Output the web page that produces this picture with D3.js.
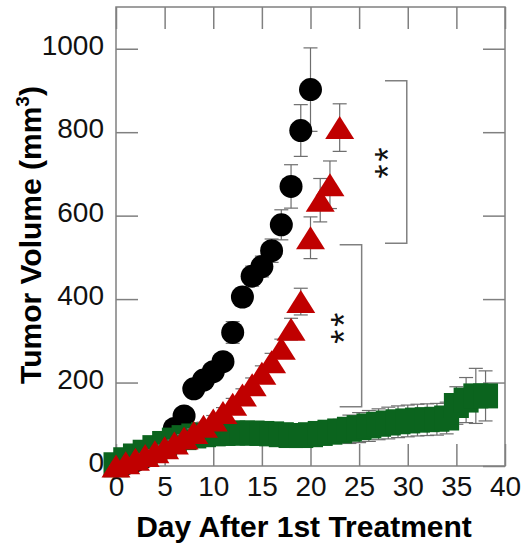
<!DOCTYPE html>
<html>
<head>
<meta charset="utf-8">
<script src="https://cdn.jsdelivr.net/npm/d3@7"></script>
<style>
  body { margin: 0; background: #fff; }
  svg { font-family: 'Liberation Sans', Arial, sans-serif; display: block; }
</style>
</head>
<body>
<svg id="viz"></svg>
<script>
const width = 525;
const height = 546;
const margin = { top: 7, right: 20, bottom: 80, left: 116 };

// control group (black circles)
const ctrlDays = [0, 1, 2, 3, 4, 5, 6, 7, 8, 9, 10, 11, 12, 13, 14, 15, 16, 17, 18, 19, 20];
const ctrlVol = [0, 5, 12, 22, 35, 52, 90, 120, 185, 206, 226, 250, 320, 405, 455, 478, 516, 578, 670, 804, 902];
const ctrlErr = [0, 2, 3, 4, 5, 7, 10, 12, 15, 15, 16, 18, 26, 22, 24, 25, 28, 36, 52, 62, 100];

// red triangles
const trtDays = [0, 1, 2, 3, 4, 5, 6, 7, 8, 9, 10, 11, 12, 13, 14, 15, 16, 17, 18, 19, 20, 21, 22, 23];
const trtVol = [0, 8, 16, 25, 34, 44, 55, 67, 80, 95, 110, 128, 148, 170, 195, 222, 250, 282, 328, 394, 547, 637, 674, 811];
const trtErr = [0, 2, 3, 4, 5, 6, 7, 8, 9, 10, 11, 12, 14, 15, 16, 18, 20, 22, 26, 32, 50, 52, 57, 57];

// green squares
const grnDays = [0, 1, 2, 3, 4, 5, 6, 7, 8, 9, 10, 11, 12, 13, 14, 15, 16, 17, 18, 19,
  20, 21, 22, 23, 24, 25, 26, 27, 28, 29, 30, 31, 32, 33, 34, 35, 36, 37, 38];
const grnVol = [3, 15, 24, 33, 44, 54, 62, 68, 72, 75, 77, 78, 79, 79, 79, 78, 77, 75, 73, 73,
  75, 78, 81, 84, 88, 92, 96, 100, 103, 106, 108, 110, 111, 112, 115, 145, 158, 168, 168];
const grnErr = [2, 4, 5, 6, 7, 8, 9, 10, 10, 11, 12, 12, 13, 13, 14, 14, 15, 16, 18, 20,
  22, 24, 26, 28, 34, 36, 37, 37, 38, 38, 38, 38, 38, 38, 38, 45, 54, 66, 60];

const xTicks = [0, 5, 10, 15, 20, 25, 30, 35, 40];
const yTicks = [0, 200, 400, 600, 800, 1000];

// significance brackets (data units) and where the "**" sits
const brackets = [
  { x0: 27.66, x1: 29.9, y0: 923, y1: 534, sx: 27.3, sy: 730 },
  { x0: 23.0, x1: 25.26, y0: 530, y1: 142, sx: 22.7, sy: 334 },
];

const svg = d3.select('#viz').attr('width', width).attr('height', height);

const x = d3.scaleLinear().domain([0, 40]).range([margin.left, width - margin.right]);
const y = d3.scaleLinear().domain([0, 1100]).range([height - margin.bottom, margin.top]);

const gridCol = '#808080';
const tickLen = 22;

// axes, ticks pointing inward on all four sides
const styleAxis = (g) => {
  g.select('.domain').remove();
  g.selectAll('.tick line').attr('stroke', gridCol).attr('stroke-width', 1.5);
  g.selectAll('.tick text').attr('fill', '#111').attr('font-size', 28);
};

svg.append('g')
  .attr('transform', 'translate(0,' + y(0) + ')')
  .call(d3.axisBottom(x).tickValues(xTicks).tickSize(-tickLen).tickPadding(10.5).tickFormat(d3.format('d')))
  .call(styleAxis);

svg.append('g')
  .attr('transform', 'translate(0,' + y(1100) + ')')
  .call(d3.axisTop(x).tickValues(xTicks).tickSize(-tickLen).tickFormat(''))
  .call(styleAxis);

svg.append('g')
  .attr('transform', 'translate(' + x(0) + ',0)')
  .call(d3.axisLeft(y).tickValues(yTicks).tickSize(-tickLen).tickPadding(12).tickFormat(d3.format('d')))
  .call(styleAxis)
  .selectAll('.tick text').attr('dy', '0.2em');

svg.append('g')
  .attr('transform', 'translate(' + x(40) + ',0)')
  .call(d3.axisRight(y).tickValues(yTicks).tickSize(-tickLen).tickFormat(''))
  .call(styleAxis);

// frame
svg.append('rect')
  .attr('x', x(0)).attr('y', y(1100))
  .attr('width', x(40) - x(0)).attr('height', y(0) - y(1100))
  .attr('fill', 'none').attr('stroke', gridCol).attr('stroke-width', 1.5);

// series
function drawSeries(days, vals, errs, shape, color) {
  const pts = days.map((d, i) => ({ d: d, v: vals[i], e: errs[i] }));
  const g = svg.append('g');
  const cap = 7;
  const eb = g.append('g').attr('stroke', '#6e6e6e').attr('stroke-width', 1.2);
  pts.forEach((p) => {
    const cx = x(p.d);
    eb.append('line').attr('x1', cx).attr('x2', cx).attr('y1', y(p.v - p.e)).attr('y2', y(p.v + p.e));
    eb.append('line').attr('x1', cx - cap).attr('x2', cx + cap).attr('y1', y(p.v + p.e)).attr('y2', y(p.v + p.e));
    eb.append('line').attr('x1', cx - cap).attr('x2', cx + cap).attr('y1', y(p.v - p.e)).attr('y2', y(p.v - p.e));
  });
  g.append('g')
    .selectAll('path')
    .data(pts)
    .join('path')
    .attr('transform', (p) => 'translate(' + x(p.d) + ',' + y(p.v) + ')')
    .attr('d', shape)
    .attr('fill', color);
}

const circle = 'M11.5,0A11.5,11.5 0 1,1 -11.5,0A11.5,11.5 0 1,1 11.5,0Z';
const triangle = 'M0,-11.5L14.5,11.5L-14.5,11.5Z';
const square = 'M-12.5,-12.5H12.5V12.5H-12.5Z';

drawSeries(ctrlDays, ctrlVol, ctrlErr, circle, '#000000');
drawSeries(grnDays, grnVol, grnErr, square, '#0b641e');
drawSeries(trtDays, trtVol, trtErr, triangle, '#c00000');

// brackets and stars (the ** is written sideways)
brackets.forEach((b) => {
  svg.append('path')
    .attr('d', 'M' + x(b.x0) + ',' + y(b.y0) + 'H' + x(b.x1) + 'V' + y(b.y1) + 'H' + x(b.x0))
    .attr('fill', 'none')
    .attr('stroke', gridCol)
    .attr('stroke-width', 1.5);
  svg.append('text')
    .attr('transform', 'translate(' + (x(b.sx) + 20) + ',' + y(b.sy) + ') rotate(-90)')
    .attr('text-anchor', 'middle')
    .attr('font-size', 36)
    .attr('letter-spacing', 3)
    .attr('fill', '#111')
    .text('**');
});

// axis titles
svg.append('text')
  .attr('x', 304)
  .attr('y', 537)
  .attr('text-anchor', 'middle')
  .attr('font-size', 30)
  .attr('font-weight', 'bold')
  .text('Day After 1st Treatment');

const yt = svg.append('text')
  .attr('transform', 'translate(41,235) rotate(-90)')
  .attr('text-anchor', 'middle')
  .attr('font-size', 30)
  .attr('font-weight', 'bold');
yt.append('tspan').text('Tumor Volume (mm');
yt.append('tspan').attr('font-size', 19).attr('dy', -12).text('3');
yt.append('tspan').attr('dy', 12).text(')');
</script>
</body>
</html>
